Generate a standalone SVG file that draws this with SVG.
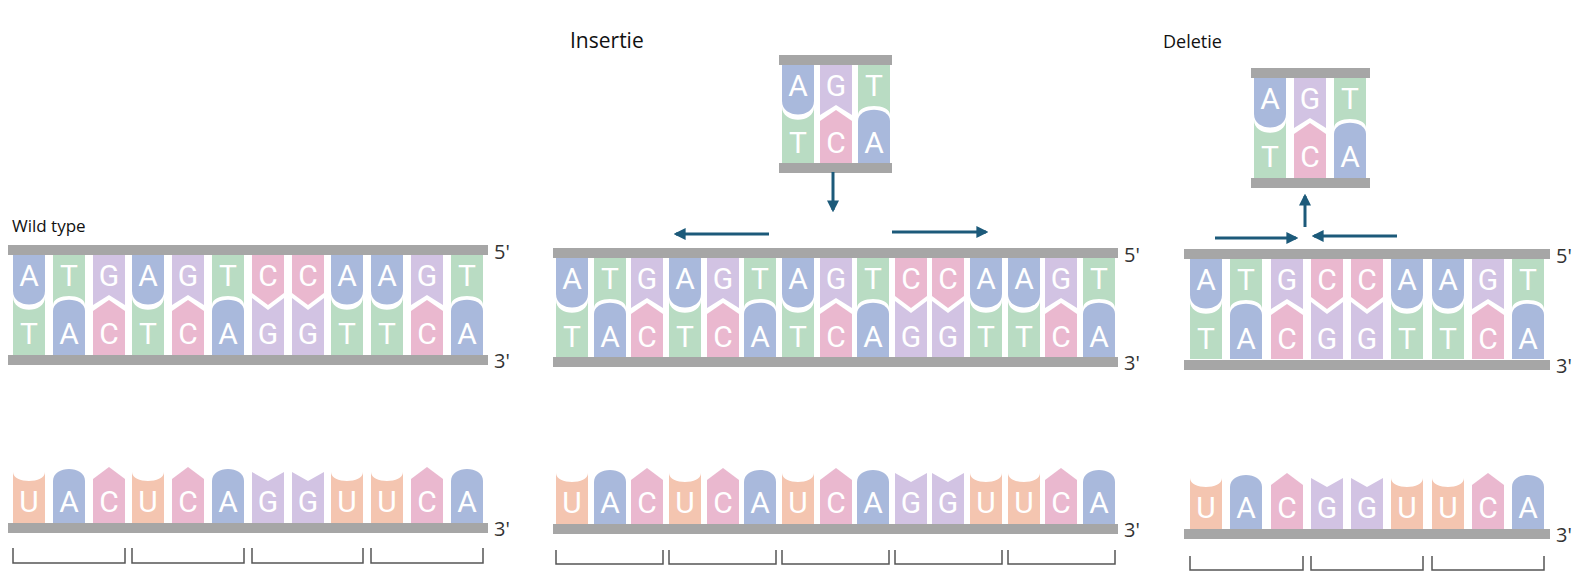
<svg xmlns="http://www.w3.org/2000/svg" xmlns:xlink="http://www.w3.org/1999/xlink" width="1589" height="585" viewBox="0 0 1589 585">
<style>
.a{fill:#a9b9dc}.t{fill:#b9dcc3}.g{fill:#d2c3e3}.c{fill:#eab8cf}.u{fill:#f4c5b0}
.bar{fill:#a6a6a6}
.l{font-family:Roboto,"Liberation Sans",sans-serif;font-size:30px;fill:#fff;text-anchor:middle}
.e{font-family:"Open Sans","Liberation Sans",sans-serif;font-size:20px;fill:#333}
.h{font-family:"Open Sans","Liberation Sans",sans-serif;fill:#111}
.br{fill:none;stroke:#555;stroke-width:1.5}
.ar{stroke:#1c5a7a;stroke-width:3;fill:none}
</style>
<defs>
<marker id="ah" viewBox="0 0 10 10" refX="8" refY="5" markerWidth="4" markerHeight="4" orient="auto"><path d="M0,0 L10,5 L0,10 Z" fill="#1c5a7a"/></marker>
<path id="tA" class="a" d="M0,0H32V36C32,54 0,54 0,36Z"/>
<path id="tT" class="t" d="M0,0H32V50C32,38 0,38 0,50Z"/>
<path id="tC" class="c" d="M0,0H32V38L16,50L0,38Z"/>
<path id="tG" class="g" d="M0,0H32V50L16,40L0,50Z"/>
<path id="bA" class="a" d="M0,100V56C0,41 32,41 32,56V100Z"/>
<path id="bT" class="t" d="M0,100V42C0,59 32,59 32,42V100Z"/>
<path id="bC" class="c" d="M0,100V56L16,45L32,56V100Z"/>
<path id="bG" class="g" d="M0,100V43L16,55L32,43V100Z"/>
<path id="mU" class="u" d="M0,0V-51C0,-39 32,-39 32,-51V0Z"/>
<path id="mA" class="a" d="M0,0V-42C0,-58 32,-58 32,-42V0Z"/>
<path id="mC" class="c" d="M0,0V-44L16,-56L32,-44V0Z"/>
<path id="mG" class="g" d="M0,0V-51L16,-42L32,-51V0Z"/>
</defs>

<text class="h" x="12" y="232" font-size="17">Wild type</text>
<text class="h" x="570" y="48" font-size="21">Insertie</text>
<text class="h" x="1163" y="48" font-size="18">Deletie</text>

<g id="wild-dna">
<use href="#tA" x="13" y="255"/><use href="#tT" x="53" y="255"/><use href="#tG" x="93" y="255"/><use href="#tA" x="132" y="255"/><use href="#tG" x="172" y="255"/><use href="#tT" x="212" y="255"/><use href="#tC" x="252" y="255"/><use href="#tC" x="292" y="255"/><use href="#tA" x="331" y="255"/><use href="#tA" x="371" y="255"/><use href="#tG" x="411" y="255"/><use href="#tT" x="451" y="255"/>
<use href="#bT" x="13" y="255"/><use href="#bA" x="53" y="255"/><use href="#bC" x="93" y="255"/><use href="#bT" x="132" y="255"/><use href="#bC" x="172" y="255"/><use href="#bA" x="212" y="255"/><use href="#bG" x="252" y="255"/><use href="#bG" x="292" y="255"/><use href="#bT" x="331" y="255"/><use href="#bT" x="371" y="255"/><use href="#bC" x="411" y="255"/><use href="#bA" x="451" y="255"/>
<rect class="bar" x="8" y="245" width="480" height="10"/><rect class="bar" x="8" y="355" width="480" height="10"/>
<g class="l">
<text x="29" y="286">A</text><text x="69" y="286">T</text><text x="109" y="286">G</text><text x="148" y="286">A</text><text x="188" y="286">G</text><text x="228" y="286">T</text><text x="268" y="286">C</text><text x="308" y="286">C</text><text x="347" y="286">A</text><text x="387" y="286">A</text><text x="427" y="286">G</text><text x="467" y="286">T</text>
<text x="29" y="344">T</text><text x="69" y="344">A</text><text x="109" y="344">C</text><text x="148" y="344">T</text><text x="188" y="344">C</text><text x="228" y="344">A</text><text x="268" y="344">G</text><text x="308" y="344">G</text><text x="347" y="344">T</text><text x="387" y="344">T</text><text x="427" y="344">C</text><text x="467" y="344">A</text>
</g>
<text class="e" x="494" y="259">5'</text><text class="e" x="494" y="368">3'</text>
</g>

<g id="wild-rna">
<use href="#mU" x="13" y="523"/><use href="#mA" x="53" y="523"/><use href="#mC" x="93" y="523"/><use href="#mU" x="132" y="523"/><use href="#mC" x="172" y="523"/><use href="#mA" x="212" y="523"/><use href="#mG" x="252" y="523"/><use href="#mG" x="292" y="523"/><use href="#mU" x="331" y="523"/><use href="#mU" x="371" y="523"/><use href="#mC" x="411" y="523"/><use href="#mA" x="451" y="523"/>
<rect class="bar" x="8" y="523" width="480" height="10"/>
<g class="l">
<text x="29" y="512">U</text><text x="69" y="512">A</text><text x="109" y="512">C</text><text x="148" y="512">U</text><text x="188" y="512">C</text><text x="228" y="512">A</text><text x="268" y="512">G</text><text x="308" y="512">G</text><text x="347" y="512">U</text><text x="387" y="512">U</text><text x="427" y="512">C</text><text x="467" y="512">A</text>
</g>
<text class="e" x="494" y="536">3'</text>
<path class="br" d="M13,548V563H125V548M132,548V563H244V548M252,548V563H363V548M371,548V563H483V548"/>
</g>

<g id="ins-piece">
<use href="#tA" x="782" y="65"/><use href="#tG" x="820" y="65"/><use href="#tT" x="858" y="65"/>
<use href="#bT" x="782" y="65"/><use href="#bC" x="820" y="65"/><use href="#bA" x="858" y="65"/>
<rect class="bar" x="779" y="55" width="113" height="10"/><rect class="bar" x="779" y="163" width="113" height="10"/>
<g class="l"><text x="798" y="96">A</text><text x="836" y="96">G</text><text x="874" y="96">T</text><text x="798" y="153">T</text><text x="836" y="153">C</text><text x="874" y="153">A</text></g>
</g>

<g id="ins-dna">
<use href="#tA" x="556" y="258"/><use href="#tT" x="594" y="258"/><use href="#tG" x="631" y="258"/><use href="#tA" x="669" y="258"/><use href="#tG" x="707" y="258"/><use href="#tT" x="744" y="258"/><use href="#tA" x="782" y="258"/><use href="#tG" x="820" y="258"/><use href="#tT" x="857" y="258"/><use href="#tC" x="895" y="258"/><use href="#tC" x="932" y="258"/><use href="#tA" x="970" y="258"/><use href="#tA" x="1008" y="258"/><use href="#tG" x="1045" y="258"/><use href="#tT" x="1083" y="258"/>
<use href="#bT" x="556" y="258"/><use href="#bA" x="594" y="258"/><use href="#bC" x="631" y="258"/><use href="#bT" x="669" y="258"/><use href="#bC" x="707" y="258"/><use href="#bA" x="744" y="258"/><use href="#bT" x="782" y="258"/><use href="#bC" x="820" y="258"/><use href="#bA" x="857" y="258"/><use href="#bG" x="895" y="258"/><use href="#bG" x="932" y="258"/><use href="#bT" x="970" y="258"/><use href="#bT" x="1008" y="258"/><use href="#bC" x="1045" y="258"/><use href="#bA" x="1083" y="258"/>
<rect class="bar" x="553" y="248" width="565" height="10"/><rect class="bar" x="553" y="357" width="565" height="10"/>
<g class="l">
<text x="572" y="289">A</text><text x="610" y="289">T</text><text x="647" y="289">G</text><text x="685" y="289">A</text><text x="723" y="289">G</text><text x="760" y="289">T</text><text x="798" y="289">A</text><text x="836" y="289">G</text><text x="873" y="289">T</text><text x="911" y="289">C</text><text x="948" y="289">C</text><text x="986" y="289">A</text><text x="1024" y="289">A</text><text x="1061" y="289">G</text><text x="1099" y="289">T</text>
<text x="572" y="347">T</text><text x="610" y="347">A</text><text x="647" y="347">C</text><text x="685" y="347">T</text><text x="723" y="347">C</text><text x="760" y="347">A</text><text x="798" y="347">T</text><text x="836" y="347">C</text><text x="873" y="347">A</text><text x="911" y="347">G</text><text x="948" y="347">G</text><text x="986" y="347">T</text><text x="1024" y="347">T</text><text x="1061" y="347">C</text><text x="1099" y="347">A</text>
</g>
<text class="e" x="1124" y="262">5'</text><text class="e" x="1124" y="370">3'</text>
</g>

<g id="ins-rna">
<use href="#mU" x="556" y="524"/><use href="#mA" x="594" y="524"/><use href="#mC" x="631" y="524"/><use href="#mU" x="669" y="524"/><use href="#mC" x="707" y="524"/><use href="#mA" x="744" y="524"/><use href="#mU" x="782" y="524"/><use href="#mC" x="820" y="524"/><use href="#mA" x="857" y="524"/><use href="#mG" x="895" y="524"/><use href="#mG" x="932" y="524"/><use href="#mU" x="970" y="524"/><use href="#mU" x="1008" y="524"/><use href="#mC" x="1045" y="524"/><use href="#mA" x="1083" y="524"/>
<rect class="bar" x="553" y="524" width="565" height="10"/>
<g class="l">
<text x="572" y="513">U</text><text x="610" y="513">A</text><text x="647" y="513">C</text><text x="685" y="513">U</text><text x="723" y="513">C</text><text x="760" y="513">A</text><text x="798" y="513">U</text><text x="836" y="513">C</text><text x="873" y="513">A</text><text x="911" y="513">G</text><text x="948" y="513">G</text><text x="986" y="513">U</text><text x="1024" y="513">U</text><text x="1061" y="513">C</text><text x="1099" y="513">A</text>
</g>
<text class="e" x="1124" y="537">3'</text>
<path class="br" d="M556,550V564H663V550M669,550V564H776V550M782,550V564H889V550M895,550V564H1002V550M1008,550V564H1115V550"/>
</g>

<g id="del-piece">
<use href="#tA" x="1254" y="78"/><use href="#tG" x="1294" y="78"/><use href="#tT" x="1334" y="78"/>
<use href="#bT" x="1254" y="78"/><use href="#bC" x="1294" y="78"/><use href="#bA" x="1334" y="78"/>
<rect class="bar" x="1251" y="68" width="119" height="10"/><rect class="bar" x="1251" y="178" width="119" height="10"/>
<g class="l"><text x="1270" y="109">A</text><text x="1310" y="109">G</text><text x="1350" y="109">T</text><text x="1270" y="167">T</text><text x="1310" y="167">C</text><text x="1350" y="167">A</text></g>
</g>

<g id="del-dna">
<use href="#tA" x="1190" y="259"/><use href="#tT" x="1230" y="259"/><use href="#tG" x="1271" y="259"/><use href="#tC" x="1311" y="259"/><use href="#tC" x="1351" y="259"/><use href="#tA" x="1391" y="259"/><use href="#tA" x="1432" y="259"/><use href="#tG" x="1472" y="259"/><use href="#tT" x="1512" y="259"/>
<use href="#bT" x="1190" y="259"/><use href="#bA" x="1230" y="259"/><use href="#bC" x="1271" y="259"/><use href="#bG" x="1311" y="259"/><use href="#bG" x="1351" y="259"/><use href="#bT" x="1391" y="259"/><use href="#bT" x="1432" y="259"/><use href="#bC" x="1472" y="259"/><use href="#bA" x="1512" y="259"/>
<rect class="bar" x="1184" y="249" width="366" height="10"/><rect class="bar" x="1184" y="360" width="366" height="10"/>
<g class="l">
<text x="1206" y="290">A</text><text x="1246" y="290">T</text><text x="1287" y="290">G</text><text x="1327" y="290">C</text><text x="1367" y="290">C</text><text x="1407" y="290">A</text><text x="1448" y="290">A</text><text x="1488" y="290">G</text><text x="1528" y="290">T</text>
<text x="1206" y="349">T</text><text x="1246" y="349">A</text><text x="1287" y="349">C</text><text x="1327" y="349">G</text><text x="1367" y="349">G</text><text x="1407" y="349">T</text><text x="1448" y="349">T</text><text x="1488" y="349">C</text><text x="1528" y="349">A</text>
</g>
<text class="e" x="1556" y="263">5'</text><text class="e" x="1556" y="373">3'</text>
</g>

<g id="del-rna">
<use href="#mU" x="1190" y="529"/><use href="#mA" x="1230" y="529"/><use href="#mC" x="1271" y="529"/><use href="#mG" x="1311" y="529"/><use href="#mG" x="1351" y="529"/><use href="#mU" x="1391" y="529"/><use href="#mU" x="1432" y="529"/><use href="#mC" x="1472" y="529"/><use href="#mA" x="1512" y="529"/>
<rect class="bar" x="1184" y="529" width="366" height="10"/>
<g class="l">
<text x="1206" y="518">U</text><text x="1246" y="518">A</text><text x="1287" y="518">C</text><text x="1327" y="518">G</text><text x="1367" y="518">G</text><text x="1407" y="518">U</text><text x="1448" y="518">U</text><text x="1488" y="518">C</text><text x="1528" y="518">A</text>
</g>
<text class="e" x="1556" y="542">3'</text>
<path class="br" d="M1190,556V570H1303V556M1311,556V570H1423V556M1432,556V570H1544V556"/>
</g>

<g id="connectors">
<path class="ar" d="M833,172V210" marker-end="url(#ah)"/>
<path class="ar" d="M769,234H676" marker-end="url(#ah)"/>
<path class="ar" d="M892,232H986" marker-end="url(#ah)"/>
<path class="ar" d="M1305,227V196" marker-end="url(#ah)"/>
<path class="ar" d="M1215,238H1296" marker-end="url(#ah)"/>
<path class="ar" d="M1397,236H1314" marker-end="url(#ah)"/>
</g>
</svg>
